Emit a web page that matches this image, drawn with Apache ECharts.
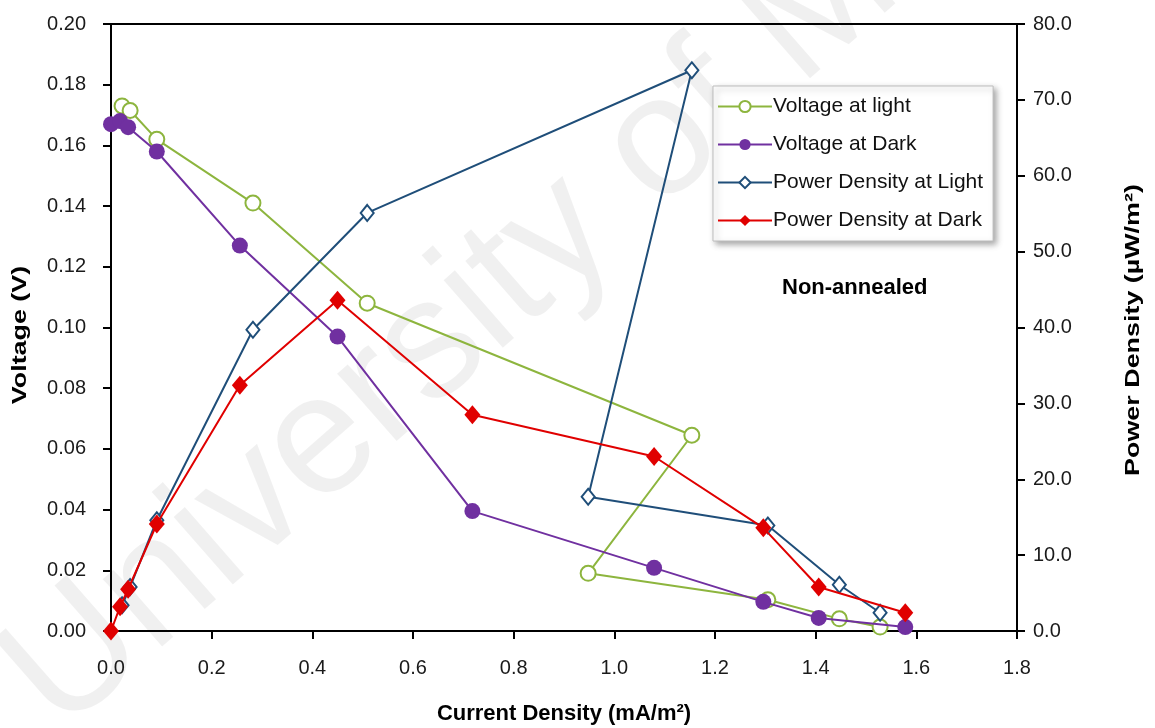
<!DOCTYPE html>
<html>
<head>
<meta charset="utf-8">
<script src="https://cdn.jsdelivr.net/npm/echarts@6/dist/echarts.min.js"></script>
<style>
  html, body { margin: 0; padding: 0; background: #fff; }
  #chart { width: 1155px; height: 728px; }
</style>
</head>
<body>
<div id="chart"></div>
<script>
// Current density (mA/m²) for each measurement
const xLight = [0.022, 0.038, 0.091, 0.282, 0.509, 1.154, 0.948, 1.305, 1.447, 1.528];
const xDark  = [0.000, 0.018, 0.034, 0.091, 0.256, 0.450, 0.718, 1.079, 1.296, 1.406, 1.578];

// Voltage (V)
const voltLight = [0.173, 0.1715, 0.162, 0.141, 0.108, 0.0645, 0.019, 0.0103, 0.0040, 0.0013];
const voltDark  = [0.167, 0.168, 0.166, 0.158, 0.127, 0.097, 0.0395, 0.0208, 0.0096, 0.0043, 0.0013];

// Power density (µW/m²)
const powerLight = [3.4, 5.8, 14.6, 39.7, 55.1, 73.9, 17.7, 13.9, 6.1, 2.4];
const powerDark  = [0.0, 3.2, 5.5, 14.1, 32.4, 43.6, 28.5, 23.0, 13.6, 5.8, 2.4];

const seriesNames = ['Voltage at light', 'Voltage at Dark', 'Power Density at Light', 'Power Density at Dark'];
const xTicks = { min: 0, max: 1.8, step: 0.2 };
const vTicks = { min: 0, max: 0.2, step: 0.02 };
const pTicks = { min: 0, max: 80, step: 10 };

const pairs = (xs, ys) => xs.map((x, i) => [x, ys[i]]);

const FONT = "'Liberation Sans', 'DejaVu Sans', sans-serif";

const GREEN = '#8DB53E';
const PURPLE = '#7030A0';
const BLUE = '#1F4E79';
const RED = '#E00000';

const GRID = { left: 111, right: 138, top: 24, bottom: 97 };

const chart = echarts.init(document.getElementById('chart'), null, { renderer: 'canvas' });

const axisCommon = {
  axisLine: { show: true, lineStyle: { color: '#000', width: 2 } },
  axisTick: { show: true, inside: false, length: 8, lineStyle: { color: '#000', width: 2 } },
  splitLine: { show: false },
  axisLabel: { color: '#1a1a1a', fontFamily: FONT, fontSize: 20 }
};

// Vertical axis titles, stretched along their reading direction
const sideTitle = (text, x, y) => ({
  type: 'text',
  x: x, y: y,
  rotation: Math.PI / 2,
  scaleX: 1.28,
  silent: true,
  style: {
    text: text,
    font: "bold 21px " + FONT,
    fill: '#000',
    textAlign: 'center',
    textVerticalAlign: 'middle'
  }
});

chart.setOption({
  backgroundColor: '#fff',
  animation: false,
  grid: {
    ...GRID,
    outerBoundsMode: 'none',
    containLabel: false,
    show: true, borderColor: '#000', borderWidth: 2
  },
  graphic: [
    {
      type: 'text',
      z: -10,
      silent: true,
      x: 30, y: 700,
      rotation: 0.72,
      style: {
        text: 'University of Malaya',
        font: "170px " + FONT,
        fill: 'rgba(0,0,0,0.06)',
        textVerticalAlign: 'middle'
      }
    },
    {
      type: 'text',
      x: 782, y: 288,
      silent: true,
      style: {
        text: 'Non-annealed',
        font: "bold 22px " + FONT,
        fill: '#000',
        textVerticalAlign: 'middle'
      }
    },
    sideTitle('Voltage (V)', 20, 335),
    sideTitle('Power Density (µW/m²)', 1133, 330)
  ],
  legend: {
    orient: 'vertical',
    left: 713, top: 86,
    data: seriesNames,
    backgroundColor: '#fff',
    borderColor: '#bdbdbd',
    borderWidth: 1,
    shadowColor: 'rgba(0,0,0,0.35)',
    shadowBlur: 6,
    shadowOffsetX: 3,
    shadowOffsetY: 3,
    padding: [10, 10, 10, 4],
    itemGap: 17,
    itemWidth: 54,
    itemHeight: 14,
    textStyle: { fontFamily: FONT, fontSize: 21, color: '#111', padding: [0, 0, 0, -4] }
  },
  xAxis: {
    type: 'value',
    min: xTicks.min, max: xTicks.max, interval: xTicks.step,
    name: 'Current Density (mA/m²)',
    nameLocation: 'middle',
    nameGap: 72,
    nameTextStyle: { fontFamily: FONT, fontWeight: 'bold', fontSize: 22, color: '#000' },
    ...axisCommon,
    axisLabel: { ...axisCommon.axisLabel, margin: 27, formatter: v => v.toFixed(1) }
  },
  yAxis: [
    {
      type: 'value',
      position: 'left',
      min: vTicks.min, max: vTicks.max, interval: vTicks.step,
      ...axisCommon,
      axisLabel: { ...axisCommon.axisLabel, margin: 25, formatter: v => v.toFixed(2) }
    },
    {
      type: 'value',
      position: 'right',
      min: pTicks.min, max: pTicks.max, interval: pTicks.step,
      ...axisCommon,
      axisLabel: { ...axisCommon.axisLabel, margin: 16, formatter: v => v.toFixed(1) }
    }
  ],
  series: [
    {
      name: seriesNames[0],
      type: 'line',
      yAxisIndex: 0,
      data: pairs(xLight, voltLight),
      symbol: 'circle',
      symbolSize: 15,
      lineStyle: { color: GREEN, width: 2 },
      itemStyle: { color: '#fff', borderColor: GREEN, borderWidth: 2 },
      z: 2
    },
    {
      name: seriesNames[1],
      type: 'line',
      yAxisIndex: 0,
      data: pairs(xDark, voltDark),
      symbol: 'circle',
      symbolSize: 16,
      lineStyle: { color: PURPLE, width: 2 },
      itemStyle: { color: PURPLE, borderColor: PURPLE, borderWidth: 0 },
      z: 3
    },
    {
      name: seriesNames[2],
      type: 'line',
      yAxisIndex: 1,
      data: pairs(xLight, powerLight),
      symbol: 'diamond',
      symbolSize: [13, 16],
      lineStyle: { color: BLUE, width: 2 },
      itemStyle: { color: '#fff', borderColor: BLUE, borderWidth: 2 },
      z: 4
    },
    {
      name: seriesNames[3],
      type: 'line',
      yAxisIndex: 1,
      data: pairs(xDark, powerDark),
      symbol: 'diamond',
      symbolSize: [16, 19],
      lineStyle: { color: RED, width: 2 },
      itemStyle: { color: RED, borderColor: RED, borderWidth: 0 },
      z: 5
    }
  ]
});
</script>
</body>
</html>
